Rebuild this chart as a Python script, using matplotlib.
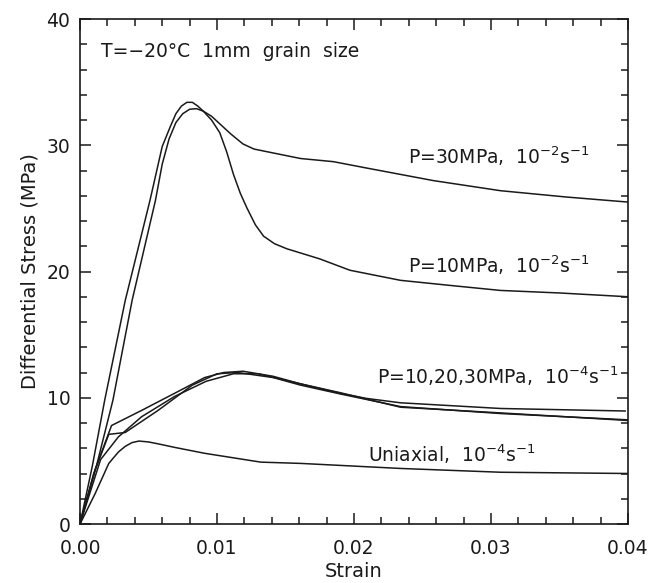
import matplotlib
matplotlib.use("Agg")
import matplotlib.pyplot as plt
from matplotlib.ticker import MultipleLocator

plt.rcParams['font.family'] = ['DejaVu Sans']
plt.rcParams['mathtext.default'] = 'regular'

# strain / stress curves
p10_fast_strain = [0, 0.0009, 0.0018, 0.0033, 0.0051, 0.0060, 0.0066, 0.0070, 0.0074, 0.0078, 0.0082,
                   0.0086, 0.0090, 0.0096, 0.0102, 0.0107, 0.0112, 0.0117, 0.0122, 0.0128, 0.0134,
                   0.0142, 0.0151, 0.0175, 0.0197, 0.0234, 0.0270, 0.0307, 0.0350, 0.0400]
p10_fast_stress = [0, 4.6, 9.8, 17.7, 25.6, 29.9, 31.5, 32.5, 33.1, 33.4, 33.4,
                   33.1, 32.7, 32.0, 31.0, 29.5, 27.7, 26.2, 25.0, 23.7, 22.8,
                   22.2, 21.8, 21.0, 20.1, 19.3, 18.9, 18.5, 18.3, 18.0]

p30_fast_strain = [0, 0.0012, 0.0024, 0.0038, 0.0055, 0.0060, 0.0065, 0.0070, 0.0075, 0.0080, 0.0085,
                   0.0090, 0.0096, 0.0102, 0.0110, 0.0119, 0.0127, 0.0136, 0.0161, 0.0185, 0.0209,
                   0.0258, 0.0307, 0.0355, 0.0400]
p30_fast_stress = [0, 4.6, 9.8, 17.7, 25.6, 28.5, 30.5, 31.8, 32.5, 32.85, 32.9,
                   32.7, 32.3, 31.7, 30.9, 30.1, 29.7, 29.5, 28.95, 28.7, 28.2,
                   27.2, 26.4, 25.9, 25.5]

slow_a_strain = [0, 0.0011, 0.0023, 0.0045, 0.0069, 0.0091, 0.0105, 0.0119, 0.0141, 0.0161, 0.0190,
                 0.0209, 0.0234, 0.0307, 0.0398]
slow_a_stress = [0, 4.3, 7.8, 9.0, 10.35, 11.6, 12.0, 12.1, 11.7, 11.1, 10.35,
                 9.95, 9.6, 9.15, 8.95]

slow_b_strain = [0, 0.0010, 0.0021, 0.0033, 0.0057, 0.0082, 0.0100, 0.0115, 0.0141, 0.0161, 0.0190,
                 0.0234, 0.0307, 0.0400]
slow_b_stress = [0, 4.0, 7.1, 7.25, 9.0, 11.0, 11.9, 12.0, 11.6, 11.0, 10.3,
                 9.3, 8.75, 8.25]

slow_c_strain = [0, 0.0015, 0.0028, 0.0045, 0.0069, 0.0092, 0.0112, 0.0130, 0.0161, 0.0190, 0.0234,
                 0.0307, 0.0400]
slow_c_stress = [0, 5.1, 6.9, 8.5, 10.1, 11.3, 11.9, 11.9, 11.1, 10.4, 9.25,
                 8.8, 8.2]

uni_strain = [0, 0.0011, 0.0021, 0.0028, 0.0033, 0.0038, 0.0043, 0.0050, 0.0057, 0.0069, 0.0091,
              0.0132, 0.0161, 0.0234, 0.0307, 0.0400]
uni_stress = [0, 2.4, 4.8, 5.7, 6.15, 6.45, 6.57, 6.5, 6.35, 6.07, 5.6,
              4.9, 4.8, 4.4, 4.1, 4.0]

fig = plt.figure(figsize=(6.48, 5.83), dpi=100)
ax = fig.add_axes([0.1235, 0.1012, 0.8455, 0.8662])

curves = [(p10_fast_strain, p10_fast_stress), (p30_fast_strain, p30_fast_stress),
          (slow_a_strain, slow_a_stress), (slow_b_strain, slow_b_stress),
          (slow_c_strain, slow_c_stress), (uni_strain, uni_stress)]
for xs, ys in curves:
    ax.plot(xs, ys, color='#1a1a1a', lw=1.1)

ax.set_xlim(0, 0.04)
ax.set_ylim(0, 40)
ax.xaxis.set_major_locator(MultipleLocator(0.01))
ax.xaxis.set_minor_locator(MultipleLocator(0.002))
ax.yaxis.set_major_locator(MultipleLocator(10))
ax.yaxis.set_minor_locator(MultipleLocator(2))
ax.set_xticks([0, 0.01, 0.02, 0.03, 0.04])
ax.set_xticklabels(['0.00', '0.01', '0.02', '0.03', '0.04'])
ax.tick_params(which='both', direction='in', top=True, right=True, width=1.1,
               colors='#1a1a1a', labelsize=13.5)
ax.tick_params(axis='x', pad=11)
ax.tick_params(axis='y', pad=7)
ax.tick_params(which='major', length=8)
ax.tick_params(which='minor', length=5)
for s in ax.spines.values():
    s.set_linewidth(1.2)
    s.set_color('#1a1a1a')

ax.set_xlabel('Strain', fontsize=14, labelpad=3, color='#1a1a1a')
ax.set_ylabel('Differential Stress (MPa)', fontsize=14, labelpad=5, color='#1a1a1a')

txt = dict(fontsize=13.5, color='#1a1a1a')
ax.text(0.0015, 37.4, 'T=\u221220\u00b0C  1mm  grain  size', va='center', ha='left', **txt)
ax.text(0.0372, 29.1, 'P=30MPa,  $10^{-2}s^{-1}$', va='center', ha='right', **txt)
ax.text(0.0372, 20.5, 'P=10MPa,  $10^{-2}s^{-1}$', va='center', ha='right', **txt)
ax.text(0.0393, 11.7, 'P=10,20,30MPa,  $10^{-4}s^{-1}$', va='center', ha='right', **txt)
ax.text(0.0332, 5.5, 'Uniaxial,  $10^{-4}s^{-1}$', va='center', ha='right', **txt)

fig.savefig('out.png', dpi=100, facecolor='white')
